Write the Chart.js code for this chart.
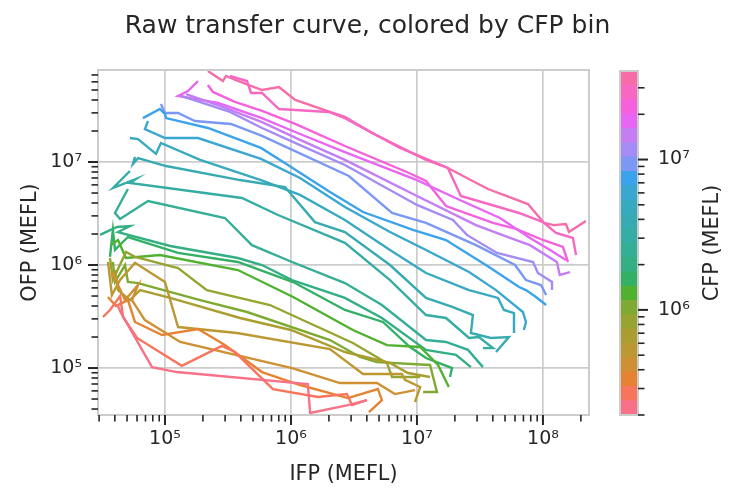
<!DOCTYPE html>
<html>
<head>
<meta charset="utf-8">
<script src="https://cdn.jsdelivr.net/npm/chart.js@4.4.1/dist/chart.umd.min.js"></script>
<style>
  html, body { margin: 0; padding: 0; background: #fff; }
  #wrap { position: relative; width: 735px; height: 501px; }
  #main { position: absolute; left: 0; top: 0; }
  #cbar { position: absolute; left: 600px; top: 0; }
</style>
</head>
<body>
<div id="wrap">
  <canvas id="main" width="735" height="501"></canvas>
  <canvas id="cbar" width="135" height="501"></canvas>
</div>
<script>
// one curve per CFP bin, points are [IFP, OFP] in MEFL
const curve00 = [[4.16e4,4.18e5],[4.48e4,3.42e5],[7.89e4,1.02e5],[1.24e5,9.14e4],[1.36e6,7.00e4],[1.42e6,3.66e4],[2.83e6,4.37e4],[4.01e6,4.89e4]];
const curve01 = [[3.22e4,3.13e5],[3.66e4,3.66e5],[4.40e4,5.00e5],[4.65e4,3.13e5],[6.00e4,1.96e5],[1.36e5,1.05e5],[2.83e5,1.64e5],[3.59e5,1.43e5],[7.19e5,6.25e4],[1.64e6,5.23e4],[2.78e6,5.59e4],[3.05e6,4.37e4],[4.01e6,4.89e4]];
const curve02 = [[3.53e4,4.89e5],[4.08e4,4.00e5],[5.08e4,4.57e5],[5.78e4,2.80e5],[9.47e4,2.09e5],[1.83e5,2.39e5],[2.99e5,1.67e5],[5.89e5,9.14e4],[1.18e6,6.84e4],[2.83e6,5.11e4],[4.90e6,6.25e4],[5.27e6,4.89e4],[4.16e6,3.74e4]];
const curve03 = [[3.79e4,8.55e5],[4.82e4,4.57e5],[6.11e4,6.39e5],[5.47e4,4.57e5],[6.93e4,2.92e5],[1.32e5,1.79e5],[1.02e6,1.00e5],[2.45e6,7.15e4],[4.82e6,7.15e4],[6.68e6,5.59e4],[9.64e6,6.11e4]];
const curve04 = [[3.53e4,1.07e6],[3.79e4,5.11e5],[4.40e4,7.15e5],[5.78e4,1.05e6],[1.00e5,6.84e5],[1.27e5,2.50e5],[3.73e5,2.19e5],[2.04e6,1.53e5],[3.73e6,8.75e4],[7.60e6,8.75e4],[8.03e6,7.66e4],[1.06e7,6.54e4],[9.64e6,4.68e4]];
const curve05 = [[4.01e4,8.94e5],[4.24e4,5.71e5],[5.27e4,4.57e5],[6.34e4,5.71e5],[1.10e5,4.79e5],[3.94e5,3.06e5],[1.00e6,2.34e5],[2.68e6,1.43e5],[6.11e6,1.12e5],[8.49e6,8.94e4],[1.27e7,8.18e4]];
const curve06 = [[3.66e4,1.17e6],[3.86e4,7.15e5],[4.90e4,1.34e6],[5.78e4,1.20e6],[1.27e5,9.35e5],[2.15e5,5.71e5],[6.81e5,4.09e5],[3.10e6,1.75e5],[5.78e6,1.12e5],[6.34e6,8.18e4],[7.74e6,8.18e4],[1.06e7,8.18e4]];
const curve07 = [[3.86e4,1.07e6],[4.01e4,6.84e5],[4.82e4,1.00e6],[5.08e4,6.84e5],[6.11e4,6.68e5],[1.90e5,4.57e5],[4.48e5,3.50e5],[2.04e6,1.87e5],[3.53e6,1.28e5],[4.82e6,1.14e5],[1.27e7,1.07e5],[1.44e7,5.85e4],[1.12e7,5.85e4]];
const curve08 = [[3.72e4,1.56e6],[4.24e4,1.75e6],[4.90e4,1.17e6],[9.12e4,1.25e6],[3.79e5,8.94e5],[1.04e6,4.89e5],[3.10e6,2.34e5],[5.78e6,1.67e5],[1.06e7,1.60e5],[1.47e7,1.07e5],[1.79e7,6.54e4]];
const curve09 = [[3.66e4,1.20e6],[3.86e4,2.19e6],[4.01e4,1.40e6],[5.08e4,1.87e6],[1.27e5,1.31e6],[3.79e5,1.07e6],[1.04e6,6.84e5],[2.68e6,3.66e5],[5.37e6,2.80e5],[8.80e6,1.60e5],[1.18e7,1.25e5],[1.90e7,1.00e5],[1.83e7,8.18e4]];
const curve10 = [[3.05e4,1.96e6],[4.16e4,2.34e6],[5.27e4,2.39e6],[4.24e4,2.09e6],[1.10e5,1.53e6],[3.79e5,1.17e6],[5.89e5,1.00e6],[1.02e6,7.15e5],[2.68e6,4.79e5],[5.27e6,3.06e5],[1.18e7,1.50e5],[2.04e7,1.34e5],[2.68e7,1.02e5]];
const curve11 = [[5.08e4,5.47e6],[4.01e4,3.20e6],[4.40e4,2.80e6],[7.33e4,4.18e6],[2.99e5,2.86e6],[4.90e5,1.56e6],[1.02e6,1.07e6],[2.68e6,6.68e5],[5.27e6,4.09e5],[1.18e7,1.87e5],[1.70e7,1.79e5],[2.54e7,1.50e5],[3.34e7,1.02e5]];
const curve12 = [[5.27e4,8.18e6],[3.86e4,5.59e6],[5.89e4,6.84e6],[5.27e4,6.25e6],[4.08e5,4.47e6],[7.89e5,3.06e6],[2.68e6,1.64e6],[6.11e6,7.15e5],[1.18e7,3.27e5],[1.70e7,3.06e5],[2.59e7,1.96e5],[3.10e7,2.00e5],[4.01e7,1.56e5],[3.34e7,1.56e5]];
const curve13 = [[5.78e4,1.12e7],[5.57e4,9.57e6],[6.11e4,1.09e7],[1.02e5,9.14e6],[3.94e5,6.68e6],[8.96e5,5.72e6],[1.55e6,2.61e6],[2.68e6,2.09e6],[6.11e6,1.00e6],[1.18e7,4.79e5],[1.93e7,3.91e5],[2.78e7,3.27e5],[2.68e7,2.19e5],[3.86e7,1.96e5],[5.37e7,2.00e5],[4.24e7,1.43e5]];
const curve14 = [[5.27e4,1.71e7],[6.11e4,1.67e7],[8.49e4,1.20e7],[9.29e4,1.53e7],[1.90e5,1.05e7],[5.78e5,6.68e6],[1.18e6,4.79e6],[2.68e6,2.74e6],[6.11e6,1.40e6],[1.18e7,8.36e5],[2.59e7,5.71e5],[4.40e7,4.79e5],[4.90e7,3.66e5],[5.89e7,3.42e5],[5.89e7,2.19e5]];
const curve15 = [[7.33e4,2.50e7],[6.93e4,2.09e7],[1.00e5,1.71e7],[1.83e5,1.71e7],[5.78e5,1.07e7],[1.18e6,7.00e6],[2.68e6,3.66e6],[6.11e6,2.09e6],[1.18e7,1.40e6],[2.59e7,8.55e5],[4.24e7,5.71e5],[6.93e7,3.50e5],[7.33e7,2.80e5],[7.06e7,2.34e5]];
const curve16 = [[6.68e4,2.67e7],[9.12e4,3.27e7],[1.00e5,2.92e7],[1.02e5,2.67e7],[2.19e5,2.14e7],[5.78e5,1.37e7],[9.46e5,9.35e6],[2.04e6,5.11e6],[3.73e6,3.27e6],[9.30e6,2.19e6],[1.70e7,1.75e6],[3.73e7,9.57e5],[6.46e7,6.11e5],[7.33e7,5.71e5],[8.80e7,4.89e5],[1.06e8,4.09e5]];
const curve17 = [[9.29e4,3.66e7],[1.00e5,2.99e7],[1.27e5,2.99e7],[1.73e5,2.50e7],[3.34e5,2.34e7],[5.89e5,1.79e7],[2.88e6,7.31e6],[6.34e6,3.20e6],[1.18e7,2.56e6],[2.94e7,1.56e6],[6.00e7,1.00e6],[7.33e7,7.15e5],[9.64e7,6.39e5],[1.06e8,5.11e5]];
const curve18 = [[1.36e5,4.37e7],[3.28e5,3.06e7],[5.89e5,2.14e7],[1.18e6,1.46e7],[2.68e6,9.35e6],[1.00e7,3.83e6],[1.93e7,2.74e6],[2.49e7,1.96e6],[4.32e7,1.31e6],[8.34e7,1.07e6],[9.12e7,8.36e5],[1.18e8,6.84e5],[1.18e8,5.71e5]];
const curve19 = [[1.47e5,4.57e7],[2.73e5,3.50e7],[5.89e5,2.44e7],[1.18e6,1.64e7],[2.68e6,1.05e7],[1.00e7,4.68e6],[2.94e7,2.44e6],[5.47e7,1.83e6],[7.89e7,1.56e6],[1.29e8,1.07e6],[1.36e8,8.00e5],[1.64e8,8.55e5]];
const curve20 = [[1.83e5,6.11e7],[1.52e5,4.89e7],[1.27e5,4.37e7],[2.64e5,3.74e7],[5.89e5,2.67e7],[1.18e6,1.87e7],[2.68e6,1.25e7],[1.00e7,6.68e6],[2.19e7,4.28e6],[4.56e7,2.86e6],[7.89e7,1.83e6],[1.14e8,1.40e6],[1.52e8,1.12e6]];
const curve21 = [[2.19e5,5.59e7],[2.40e5,4.79e7],[3.59e5,3.83e7],[5.89e5,3.13e7],[1.08e6,2.34e7],[2.68e6,1.43e7],[8.65e6,7.82e6],[1.18e7,6.54e6],[1.70e7,3.74e6],[4.01e7,2.56e6],[6.11e7,2.24e6],[1.00e8,1.75e6],[1.44e8,1.50e6],[1.58e8,1.07e6]];
const curve22 = [[3.28e5,6.84e7],[4.48e5,6.11e7],[4.82e5,4.68e7],[5.89e5,4.68e7],[8.03e5,3.27e7],[2.00e6,3.06e7],[2.68e6,2.67e7],[7.33e6,1.37e7],[1.76e7,8.75e6],[2.23e7,4.68e6],[6.46e7,3.20e6],[1.00e8,2.61e6],[1.27e8,2.05e6],[1.73e8,1.83e6],[1.83e8,1.25e6]];
const curve23 = [[2.19e5,7.64e7],[2.88e5,6.11e7],[3.05e5,6.84e7],[3.66e5,6.25e7],[5.89e5,5.00e7],[8.03e5,5.35e7],[1.08e6,4.00e7],[1.93e6,3.13e7],[2.68e6,2.74e7],[4.40e6,1.91e7],[1.18e7,1.05e7],[1.76e7,8.75e6],[3.66e7,5.47e6],[7.60e7,3.91e6],[1.02e8,2.56e6],[1.22e8,2.44e6],[1.52e8,2.50e6],[1.61e8,2.09e6],[2.19e8,2.67e6],[1.70e8,2.19e6]];

const curves = [curve00, curve01, curve02, curve03, curve04, curve05, curve06, curve07, curve08, curve09, curve10, curve11,
                curve12, curve13, curve14, curve15, curve16, curve17, curve18, curve19, curve20, curve21, curve22, curve23];

// CFP bin edges
const cfpBinEdges = [2.0e5, 2.49e5, 3.10e5, 3.86e5, 4.81e5, 5.99e5, 7.46e5, 9.29e5, 1.157e6, 1.441e6, 1.795e6, 2.236e6, 2.785e6,
                     3.47e6, 4.32e6, 5.38e6, 6.70e6, 8.35e6, 1.04e7, 1.295e7, 1.613e7, 2.01e7, 2.50e7, 3.11e7, 3.88e7];

// axis limits
const ifpRange = [2.94e4, 2.32e8];
const ofpRange = [3.50e4, 7.82e7];

const FONT = "'DejaVu Sans', sans-serif";
const INK = '#262626';
const GRID = '#cccccc';
Chart.defaults.font.family = FONT;
Chart.defaults.color = INK;

// seaborn husl palette
const M = [[3.240969941904521,-1.537383177570093,-0.498610760293],[-0.96924363628087,1.87596750150772,0.041555057407175],[0.055630079696993,-0.20397695888897,1.056971514242878]];
function maxChroma(L, H){
  const sub1 = Math.pow(L + 16, 3) / 1560896;
  const sub2 = sub1 > 0.0088564516 ? sub1 : L / 903.2962962;
  const hr = H / 360 * 2 * Math.PI;
  let best = Infinity;
  for (let c = 0; c < 3; c++) {
    const [m1, m2, m3] = M[c];
    for (let t = 0; t < 2; t++) {
      const top1 = (284517 * m1 - 94839 * m3) * sub2;
      const top2 = (838422 * m3 + 769860 * m2 + 731718 * m1) * L * sub2 - 769860 * t * L;
      const bottom = (632260 * m3 - 126452 * m2) * sub2 + 126452 * t;
      const len = (top2 / bottom) / (Math.sin(hr) - (top1 / bottom) * Math.cos(hr));
      if (len >= 0) best = Math.min(best, len);
    }
  }
  return best;
}
function husl(H, S, L){
  const C = maxChroma(L, H) / 100 * S;
  const hr = H / 360 * 2 * Math.PI;
  const U = Math.cos(hr) * C, V = Math.sin(hr) * C;
  const vu = U / (13 * L) + 0.19783000664283, vv = V / (13 * L) + 0.46831999493879;
  const Y = L <= 8 ? L / 903.2962962 : Math.pow((L + 16) / 116, 3);
  const X = 0 - (9 * Y * vu) / ((vu - 4) * vv - vu * vv);
  const Z = (9 * Y - 15 * vv * Y - vv * X) / (3 * vv);
  const rgb = M.map(r => {
    let c = r[0] * X + r[1] * Y + r[2] * Z;
    c = c <= 0.0031308 ? 12.92 * c : 1.055 * Math.pow(c, 1 / 2.4) - 0.055;
    return Math.round(Math.min(1, Math.max(0, c)) * 255);
  });
  return 'rgb(' + rgb.join(',') + ')';
}
const nBins = cfpBinEdges.length - 1;
const binColors = Array.from({length: nBins}, (_, i) => husl(((i / nBins + 0.01) % 1) * 359, 89.1, 64.35));

const SUP = {'-':'\u207B','0':'\u2070','1':'\u00B9','2':'\u00B2','3':'\u00B3','4':'\u2074','5':'\u2075','6':'\u2076','7':'\u2077','8':'\u2078','9':'\u2079'};
function powLabel(v){
  const e = Math.round(Math.log10(v));
  return '10' + String(e).split('').map(c => SUP[c]).join('');
}
function logTicks(min, max){
  const out = [];
  for (let e = Math.floor(Math.log10(min)); e <= Math.ceil(Math.log10(max)); e++) {
    for (let m = 1; m < 10; m++) {
      const v = m * Math.pow(10, e);
      if (v >= min * 0.999 && v <= max * 1.001) out.push({value: v, major: m === 1});
    }
  }
  return out;
}
function tickLabel(v, i, ticks){ return ticks[i] && ticks[i].major ? powLabel(v) : ''; }

// tick marks: long for decades, short for the rest
const tickMarks = {
  id: 'tickMarks',
  afterDraw(chart){
    const ctx = chart.ctx;
    ctx.save();
    ctx.strokeStyle = INK;
    Object.values(chart.scales).forEach(s => {
      if (s.type !== 'logarithmic') return;
      s.ticks.forEach(t => {
        const len = t.major ? 10 : 6.5;
        const p = s.getPixelForValue(t.value);
        ctx.lineWidth = t.major ? 2 : 1.6;
        ctx.beginPath();
        if (s.axis === 'x') { ctx.moveTo(p, s.top); ctx.lineTo(p, s.top + len); }
        else if (s.position === 'left') { ctx.moveTo(s.right, p); ctx.lineTo(s.right - len, p); }
        else { ctx.moveTo(s.left, p); ctx.lineTo(s.left + len, p); }
        ctx.stroke();
      });
    });
    ctx.restore();
  }
};

const frame = {
  id: 'frame',
  afterDraw(chart){
    const {ctx, chartArea: a} = chart;
    ctx.save();
    ctx.strokeStyle = GRID;
    ctx.lineWidth = 2;
    ctx.strokeRect(a.left, a.top, a.right - a.left, a.bottom - a.top);
    ctx.restore();
  }
};

const mainTexts = {
  id: 'mainTexts',
  afterDraw(chart){
    const {ctx, chartArea: a} = chart;
    ctx.save();
    ctx.fillStyle = INK;
    ctx.textAlign = 'center';
    ctx.textBaseline = 'alphabetic';
    ctx.font = '25px ' + FONT;
    ctx.fillText('Raw transfer curve, colored by CFP bin', 367.5, 33);
    ctx.font = '20.8px ' + FONT;
    ctx.fillText('IFP (MEFL)', (a.left + a.right) / 2, 480);
    ctx.translate(36, (a.top + a.bottom) / 2);
    ctx.rotate(-Math.PI / 2);
    ctx.fillText('OFP (MEFL)', 0, 0);
    ctx.restore();
  }
};

new Chart(document.getElementById('main'), {
  type: 'line',
  data: {
    datasets: curves.map((pts, i) => ({
      label: 'bin ' + i,
      data: pts.map(p => ({x: p[0], y: p[1]})),
      borderColor: binColors[i],
      borderWidth: 2.4,
      pointRadius: 0,
      fill: false,
      tension: 0
    }))
  },
  options: {
    responsive: false,
    animation: false,
    events: [],
    layout: {padding: {left: 0, right: 146, top: 70, bottom: 0}},
    plugins: {legend: {display: false}, tooltip: {enabled: false}},
    scales: {
      x: {
        type: 'logarithmic',
        min: ifpRange[0], max: ifpRange[1],
        afterBuildTicks: s => { s.ticks = logTicks(ifpRange[0], ifpRange[1]); },
        afterFit: s => { s.height = 86; },
        grid: {color: c => (c.tick && c.tick.major) ? GRID : 'rgba(0,0,0,0)', lineWidth: 1.7, drawTicks: false},
        border: {display: false},
        ticks: {autoSkip: false, maxRotation: 0, padding: 13, font: {size: 19}, color: INK, callback: tickLabel}
      },
      y: {
        type: 'logarithmic',
        min: ofpRange[0], max: ofpRange[1],
        afterBuildTicks: s => { s.ticks = logTicks(ofpRange[0], ofpRange[1]); },
        afterFit: s => { s.width = 98; },
        grid: {color: c => (c.tick && c.tick.major) ? GRID : 'rgba(0,0,0,0)', lineWidth: 1.7, drawTicks: false},
        border: {display: false},
        ticks: {autoSkip: false, padding: 16, font: {size: 19}, color: INK, callback: tickLabel}
      }
    }
  },
  plugins: [frame, tickMarks, mainTexts]
});

// colorbar: one floating bar per CFP bin
const cbarTexts = {
  id: 'cbarTexts',
  afterDraw(chart){
    const {ctx, chartArea: a} = chart;
    ctx.save();
    ctx.fillStyle = INK;
    ctx.textAlign = 'center';
    ctx.textBaseline = 'alphabetic';
    ctx.font = '20.8px ' + FONT;
    ctx.translate(117.5, (a.top + a.bottom) / 2);
    ctx.rotate(-Math.PI / 2);
    ctx.fillText('CFP (MEFL)', 0, 0);
    ctx.restore();
  }
};

new Chart(document.getElementById('cbar'), {
  type: 'bar',
  data: {
    labels: ['CFP'],
    datasets: binColors.map((col, i) => ({
      data: [[cfpBinEdges[i], cfpBinEdges[i + 1]]],
      backgroundColor: col,
      borderWidth: 0,
      barPercentage: 1,
      categoryPercentage: 1,
      grouped: false
    }))
  },
  options: {
    responsive: false,
    animation: false,
    events: [],
    layout: {padding: {left: 20, right: 0, top: 71, bottom: 86}},
    plugins: {legend: {display: false}, tooltip: {enabled: false}},
    scales: {
      x: {display: false},
      y: {
        type: 'logarithmic',
        position: 'right',
        min: cfpBinEdges[0], max: cfpBinEdges[nBins],
        afterBuildTicks: s => { s.ticks = logTicks(cfpBinEdges[0], cfpBinEdges[nBins]); },
        afterFit: s => { s.width = 97; },
        grid: {display: false, drawTicks: false},
        border: {display: false},
        ticks: {autoSkip: false, padding: 20, font: {size: 19}, color: INK, callback: tickLabel}
      }
    }
  },
  plugins: [frame, tickMarks, cbarTexts]
});
</script>
</body>
</html>
